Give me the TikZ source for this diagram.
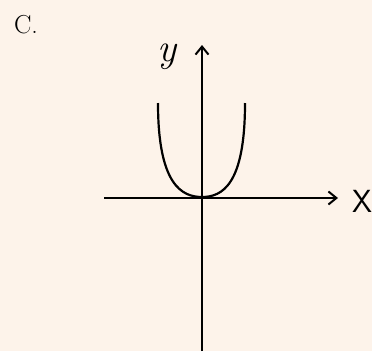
\documentclass[tikz,border=0pt]{standalone}
\usepackage{fontspec}
\usetikzlibrary{arrows.meta}
\definecolor{paper}{RGB}{253,243,234}
\tikzset{axis/.style={line width=2pt,-{Straight Barb[length=8pt,width=13pt,line width=2pt]}},
curve/.style={line width=2.2pt},
lbl/.style={inner sep=0pt}}
\begin{document}
\begin{tikzpicture}[x=1pt,y=-1pt]
\fill[paper] (0,0) rectangle (372,351);
\useasboundingbox (0,0) rectangle (372,351);
\node[lbl,font=\fontsize{26}{30}\selectfont] (c) at (26,25) {C.};
\coordinate (xs) at (104,198);
\coordinate (xe) at (338,198);
\coordinate (ys) at (202,351);
\coordinate (ye) at (202,45);
\draw[axis] (xs) -- (xe);
\draw[axis] (ys) -- (ye);
\node[lbl,font=\fontsize{40}{44}\selectfont\itshape] (ylab) at (167,57) {y};
\node[lbl,font=\sffamily\fontsize{32}{34}\selectfont] (xlab) at (362,201) {X};
\coordinate (l) at (158,103);
\coordinate (v) at (202,197);
\coordinate (r) at (245,103);
\draw[curve] (l) .. controls (158,185) and (182,197) .. (v) .. controls (222,197) and (245,185) .. (r);
\end{tikzpicture}
\end{document}
